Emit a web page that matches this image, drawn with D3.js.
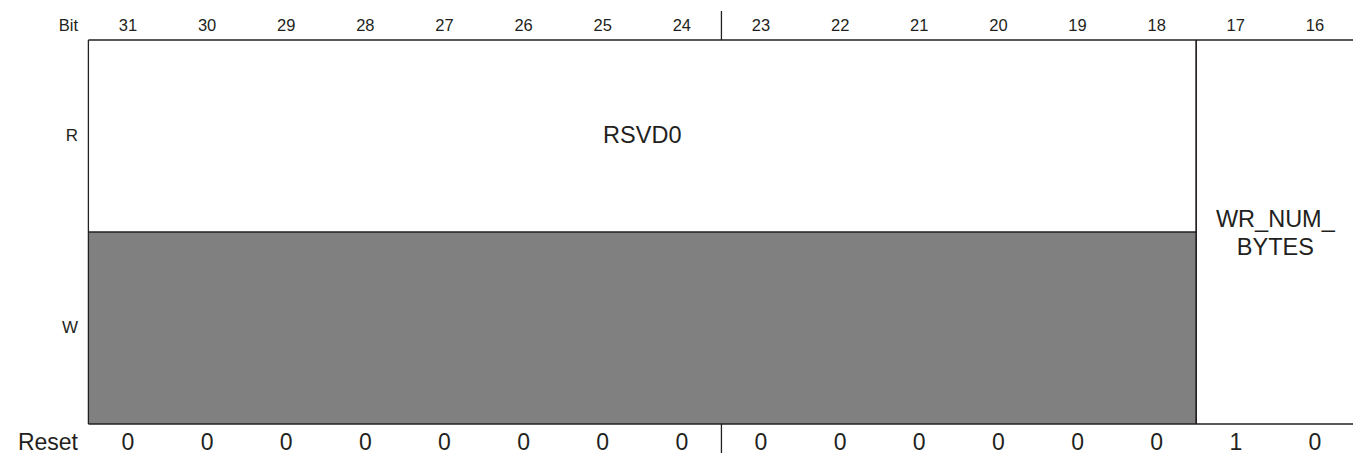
<!DOCTYPE html>
<html>
<head>
<meta charset="utf-8">
<script src="https://cdn.jsdelivr.net/npm/d3@7"></script>
<style>
  body { margin: 0; background: #fff; }
  svg { font-family: "Liberation Sans", Arial, Helvetica, sans-serif; }
</style>
</head>
<body>
<div id="chart"></div>
<script>
// register layout data
var bits = [31, 30, 29, 28, 27, 26, 25, 24, 23, 22, 21, 20, 19, 18, 17, 16];
var resetValues = [0, 0, 0, 0, 0, 0, 0, 0, 0, 0, 0, 0, 0, 0, 1, 0];
var rowLabels = ["R", "W"];
// fields: msb, lsb, name lines, whether write half is reserved
var fieldNames = [["RSVD0"], ["WR_NUM_", "BYTES"]];
var fieldMsb = [31, 17];
var fieldLsb = [18, 16];
var fieldReserved = [true, false];

var width = 1353, height = 454;
var left = 88.4, colW = 79.13;
var yTop = 40, yMid = 232, yBot = 424;
var ink = "#231f20";

var svg = d3.select("#chart").append("svg")
    .attr("width", width)
    .attr("height", height);

// column scale: bit index -> x
var x = d3.scaleBand()
    .domain(bits)
    .range([left, left + colW * bits.length])
    .paddingInner(0).paddingOuter(0);

// header
svg.append("text")
    .attr("x", 78).attr("y", 31)
    .attr("text-anchor", "end")
    .attr("font-size", 16.5)
    .attr("fill", ink)
    .text("Bit");

svg.selectAll(".bitnum")
    .data(bits)
    .enter().append("text")
    .attr("class", "bitnum")
    .attr("x", function(d){ return x(d) + x.bandwidth()/2 })
    .attr("y", 31)
    .attr("text-anchor", "middle")
    .attr("font-size", 16.5)
    .attr("fill", ink)
    .text(function(d){ return d });

// reset row
svg.append("text")
    .attr("x", 78).attr("y", 450)
    .attr("text-anchor", "end")
    .attr("font-size", 23)
    .attr("fill", ink)
    .text("Reset");

svg.selectAll(".reset")
    .data(bits)
    .enter().append("text")
    .attr("class", "reset")
    .attr("x", function(d){ return x(d) + x.bandwidth()/2 })
    .attr("y", 450)
    .attr("text-anchor", "middle")
    .attr("font-size", 23)
    .attr("fill", ink)
    .text(function(d, i){ return resetValues[i] });

// row labels
var rowY = d3.scalePoint().domain(rowLabels).range([(yTop+yMid)/2, (yMid+yBot)/2]);
svg.selectAll(".rowlab")
    .data(rowLabels)
    .enter().append("text")
    .attr("x", 78)
    .attr("y", function(d){ return rowY(d) + 5 })
    .attr("text-anchor", "end")
    .attr("font-size", 17)
    .attr("fill", ink)
    .text(function(d){ return d });

// fields
fieldNames.forEach(function(name, i) {
    var x0 = x(fieldMsb[i]);
    var x1 = x(fieldLsb[i]) + x.bandwidth();
    if (fieldReserved[i]) {
        svg.append("rect")
            .attr("x", x0).attr("y", yMid)
            .attr("width", x1 - x0).attr("height", yBot - yMid)
            .attr("fill", "#808080");
        svg.append("line")
            .attr("x1", x0).attr("x2", x1)
            .attr("y1", yMid).attr("y2", yMid)
            .attr("stroke", ink).attr("stroke-width", 1.3);
        svg.append("text")
            .attr("x", (x0 + x1)/2).attr("y", rowY("R") + 7)
            .attr("text-anchor", "middle")
            .attr("font-size", 23.5)
            .attr("fill", ink)
            .text(name[0]);
    } else {
        var cy = (yTop + yBot)/2;
        svg.selectAll(null)
            .data(name)
            .enter().append("text")
            .attr("x", (x0 + x1)/2)
            .attr("y", function(d, j){ return cy + 9 + (j - (name.length-1)/2) * 28 })
            .attr("text-anchor", "middle")
            .attr("font-size", 23.5)
            .attr("fill", ink)
            .text(function(d){ return d });
    }
    // field borders
    [x0, x1].forEach(function(xx) {
        svg.append("line")
            .attr("x1", xx).attr("x2", xx)
            .attr("y1", yTop).attr("y2", yBot)
            .attr("stroke", ink).attr("stroke-width", 1.3);
    });
});

// outer top/bottom
[yTop, yBot].forEach(function(yy) {
    svg.append("line")
        .attr("x1", left).attr("x2", width)
        .attr("y1", yy).attr("y2", yy)
        .attr("stroke", ink).attr("stroke-width", 1.3);
});

// byte divider between 24 and 23
var xd = x(23);
svg.append("line").attr("x1", xd).attr("x2", xd).attr("y1", 11).attr("y2", yTop)
    .attr("stroke", ink).attr("stroke-width", 1.3);
svg.append("line").attr("x1", xd).attr("x2", xd).attr("y1", yBot).attr("y2", 453)
    .attr("stroke", ink).attr("stroke-width", 1.3);
</script>
</body>
</html>
